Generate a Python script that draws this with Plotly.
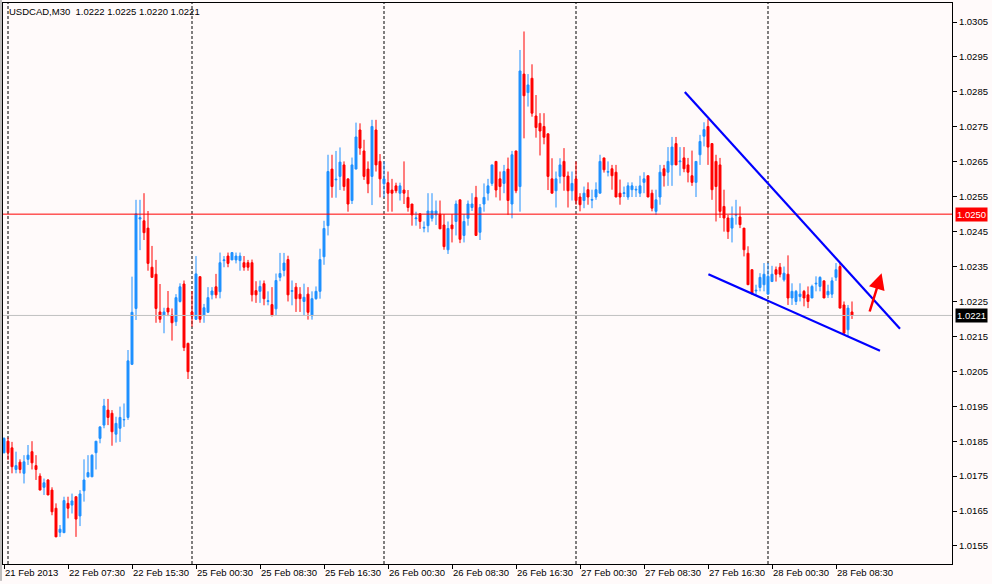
import plotly.graph_objects as go

# ---------------- data (USDCAD, M30) ----------------
open_prices = [
    1.01817, 1.01850, 1.01831, 1.01769, 1.01790, 1.01758, 1.01798, 1.01820, 1.01780, 1.01750,
    1.01718, 1.01739, 1.01710, 1.01658, 1.01589, 1.01588, 1.01672, 1.01667, 1.01691, 1.01636,
    1.01708, 1.01748, 1.01748, 1.01817, 1.01858, 1.01896, 1.01939, 1.01930, 1.01870, 1.01887,
    1.01911, 1.01918, 1.02070, 1.02230, 1.02486, 1.02481, 1.02460, 1.02348, 1.02328, 1.02220,
    1.02210, 1.02231, 1.02211, 1.02192, 1.02250, 1.02300, 1.02130, 1.02220, 1.02199, 1.02321,
    1.02211, 1.02219, 1.02269, 1.02292, 1.02278, 1.02367, 1.02380, 1.02369, 1.02369, 1.02367,
    1.02361, 1.02361, 1.02361, 1.02281, 1.02279, 1.02301, 1.02250, 1.02241, 1.02229, 1.02319,
    1.02339, 1.02370, 1.02279, 1.02291, 1.02271, 1.02250, 1.02271, 1.02209, 1.02258, 1.02279,
    1.02378, 1.02467, 1.02629, 1.02598, 1.02608, 1.02641, 1.02601, 1.02539, 1.02629, 1.02741,
    1.02681, 1.02629, 1.02608, 1.02741, 1.02651, 1.02587, 1.02590, 1.02569, 1.02581, 1.02560,
    1.02569, 1.02548, 1.02529, 1.02487, 1.02501, 1.02460, 1.02467, 1.02488, 1.02498, 1.02500,
    1.02469, 1.02398, 1.02469, 1.02479, 1.02541, 1.02439, 1.02488, 1.02519, 1.02548, 1.02448,
    1.02529, 1.02560, 1.02588, 1.02651, 1.02601, 1.02588, 1.02629, 1.02529, 1.02681, 1.02579,
    1.02901, 1.02848, 1.02889, 1.02781, 1.02760, 1.02751, 1.02730, 1.02601, 1.02567, 1.02608,
    1.02651, 1.02609, 1.02567, 1.02601, 1.02549, 1.02539, 1.02570, 1.02540, 1.02549, 1.02560,
    1.02661, 1.02620, 1.02630, 1.02620, 1.02560, 1.02559, 1.02549, 1.02570, 1.02569, 1.02560,
    1.02591, 1.02610, 1.02560, 1.02508, 1.02549, 1.02630, 1.02620, 1.02641, 1.02702, 1.02650,
    1.02661, 1.02641, 1.02610, 1.02591, 1.02670, 1.02723, 1.02751, 1.02702, 1.02651, 1.02641,
    1.02522, 1.02489, 1.02460, 1.02497, 1.02492, 1.02460, 1.02388, 1.02341, 1.02280, 1.02290,
    1.02298, 1.02271, 1.02307, 1.02341, 1.02348, 1.02312, 1.02328, 1.02260, 1.02250, 1.02264,
    1.02279, 1.02269, 1.02260, 1.02300, 1.02293, 1.02309, 1.02269, 1.02271, 1.02319, 1.02350,
    1.02240, 1.02169, 1.02220,
]
high_prices = [
    1.01861, 1.01860, 1.01848, 1.01820, 1.01798, 1.01810, 1.01839, 1.01850, 1.01810, 1.01758,
    1.01743, 1.01741, 1.01718, 1.01672, 1.01610, 1.01691, 1.01691, 1.01700, 1.01691, 1.01710,
    1.01798, 1.01810, 1.01812, 1.01850, 1.01891, 1.01971, 1.01971, 1.01939, 1.01920, 1.01949,
    1.01958, 1.02111, 1.02321, 1.02541, 1.02541, 1.02560, 1.02509, 1.02409, 1.02369, 1.02300,
    1.02232, 1.02280, 1.02230, 1.02271, 1.02302, 1.02310, 1.02132, 1.02280, 1.02380, 1.02321,
    1.02243, 1.02291, 1.02291, 1.02329, 1.02390, 1.02380, 1.02390, 1.02390, 1.02390, 1.02390,
    1.02380, 1.02369, 1.02370, 1.02308, 1.02310, 1.02310, 1.02279, 1.02291, 1.02330, 1.02389,
    1.02389, 1.02381, 1.02310, 1.02303, 1.02291, 1.02301, 1.02291, 1.02279, 1.02293, 1.02401,
    1.02481, 1.02670, 1.02670, 1.02681, 1.02691, 1.02651, 1.02601, 1.02662, 1.02762, 1.02760,
    1.02713, 1.02651, 1.02770, 1.02770, 1.02672, 1.02651, 1.02622, 1.02601, 1.02590, 1.02590,
    1.02651, 1.02569, 1.02529, 1.02507, 1.02501, 1.02479, 1.02560, 1.02560, 1.02539, 1.02539,
    1.02500, 1.02479, 1.02500, 1.02539, 1.02541, 1.02500, 1.02539, 1.02560, 1.02581, 1.02529,
    1.02588, 1.02601, 1.02641, 1.02651, 1.02622, 1.02641, 1.02662, 1.02681, 1.02681, 1.02970,
    1.03023, 1.02901, 1.02929, 1.02841, 1.02789, 1.02789, 1.02730, 1.02660, 1.02622, 1.02660,
    1.02689, 1.02622, 1.02622, 1.02651, 1.02560, 1.02579, 1.02591, 1.02570, 1.02591, 1.02670,
    1.02661, 1.02651, 1.02641, 1.02641, 1.02599, 1.02579, 1.02591, 1.02591, 1.02581, 1.02610,
    1.02620, 1.02610, 1.02570, 1.02570, 1.02641, 1.02641, 1.02692, 1.02721, 1.02721, 1.02692,
    1.02692, 1.02661, 1.02682, 1.02651, 1.02727, 1.02763, 1.02772, 1.02702, 1.02670, 1.02661,
    1.02570, 1.02498, 1.02522, 1.02541, 1.02522, 1.02460, 1.02408, 1.02341, 1.02298, 1.02331,
    1.02360, 1.02360, 1.02352, 1.02350, 1.02360, 1.02350, 1.02382, 1.02302, 1.02283, 1.02302,
    1.02283, 1.02293, 1.02298, 1.02322, 1.02322, 1.02309, 1.02298, 1.02319, 1.02360, 1.02360,
    1.02250, 1.02240, 1.02250,
]
low_prices = [
    1.01815, 1.01796, 1.01758, 1.01758, 1.01758, 1.01729, 1.01782, 1.01769, 1.01739, 1.01710,
    1.01696, 1.01696, 1.01638, 1.01576, 1.01576, 1.01588, 1.01629, 1.01643, 1.01576, 1.01607,
    1.01677, 1.01746, 1.01748, 1.01769, 1.01844, 1.01887, 1.01896, 1.01837, 1.01846, 1.01848,
    1.01891, 1.01911, 1.02068, 1.02197, 1.02397, 1.02426, 1.02338, 1.02319, 1.02189, 1.02189,
    1.02159, 1.02208, 1.02138, 1.02180, 1.02247, 1.02108, 1.02028, 1.02178, 1.02197, 1.02189,
    1.02189, 1.02218, 1.02256, 1.02259, 1.02259, 1.02348, 1.02348, 1.02369, 1.02359, 1.02338,
    1.02338, 1.02338, 1.02250, 1.02246, 1.02246, 1.02239, 1.02239, 1.02209, 1.02209, 1.02308,
    1.02322, 1.02250, 1.02239, 1.02220, 1.02220, 1.02209, 1.02198, 1.02198, 1.02255, 1.02258,
    1.02355, 1.02439, 1.02547, 1.02547, 1.02569, 1.02567, 1.02507, 1.02529, 1.02629, 1.02670,
    1.02598, 1.02560, 1.02526, 1.02622, 1.02548, 1.02548, 1.02507, 1.02507, 1.02560, 1.02539,
    1.02529, 1.02507, 1.02467, 1.02467, 1.02458, 1.02448, 1.02448, 1.02479, 1.02469, 1.02458,
    1.02398, 1.02386, 1.02419, 1.02439, 1.02417, 1.02419, 1.02467, 1.02509, 1.02439, 1.02426,
    1.02507, 1.02539, 1.02581, 1.02548, 1.02539, 1.02560, 1.02498, 1.02488, 1.02560, 1.02507,
    1.02717, 1.02808, 1.02779, 1.02719, 1.02668, 1.02700, 1.02569, 1.02560, 1.02519, 1.02588,
    1.02567, 1.02519, 1.02539, 1.02527, 1.02508, 1.02517, 1.02527, 1.02517, 1.02541, 1.02560,
    1.02619, 1.02608, 1.02570, 1.02549, 1.02527, 1.02549, 1.02541, 1.02549, 1.02549, 1.02549,
    1.02560, 1.02549, 1.02508, 1.02498, 1.02527, 1.02579, 1.02581, 1.02581, 1.02641, 1.02610,
    1.02620, 1.02591, 1.02581, 1.02549, 1.02641, 1.02694, 1.02641, 1.02541, 1.02479, 1.02489,
    1.02450, 1.02429, 1.02419, 1.02470, 1.02460, 1.02379, 1.02298, 1.02269, 1.02269, 1.02279,
    1.02279, 1.02271, 1.02307, 1.02307, 1.02319, 1.02307, 1.02240, 1.02240, 1.02240, 1.02250,
    1.02236, 1.02231, 1.02260, 1.02279, 1.02279, 1.02260, 1.02260, 1.02260, 1.02309, 1.02231,
    1.02159, 1.02150, 1.02200,
]
close_prices = [
    1.01858, 1.01817, 1.01777, 1.01780, 1.01769, 1.01791, 1.01810, 1.01788, 1.01769, 1.01710,
    1.01731, 1.01696, 1.01648, 1.01576, 1.01598, 1.01680, 1.01658, 1.01679, 1.01627, 1.01699,
    1.01739, 1.01760, 1.01810, 1.01850, 1.01891, 1.01951, 1.01918, 1.01877, 1.01901, 1.01918,
    1.01912, 1.02080, 1.02219, 1.02501, 1.02490, 1.02447, 1.02359, 1.02319, 1.02230, 1.02199,
    1.02220, 1.02220, 1.02189, 1.02261, 1.02292, 1.02118, 1.02049, 1.02208, 1.02329, 1.02199,
    1.02232, 1.02261, 1.02280, 1.02269, 1.02361, 1.02369, 1.02359, 1.02390, 1.02380, 1.02380,
    1.02348, 1.02348, 1.02269, 1.02269, 1.02293, 1.02258, 1.02252, 1.02209, 1.02310, 1.02330,
    1.02360, 1.02269, 1.02281, 1.02258, 1.02258, 1.02262, 1.02219, 1.02258, 1.02279, 1.02370,
    1.02459, 1.02622, 1.02579, 1.02600, 1.02649, 1.02579, 1.02529, 1.02641, 1.02721, 1.02689,
    1.02608, 1.02587, 1.02751, 1.02641, 1.02601, 1.02601, 1.02560, 1.02560, 1.02567, 1.02581,
    1.02560, 1.02519, 1.02498, 1.02489, 1.02479, 1.02462, 1.02509, 1.02509, 1.02509, 1.02458,
    1.02407, 1.02459, 1.02458, 1.02529, 1.02428, 1.02479, 1.02529, 1.02529, 1.02439, 1.02519,
    1.02548, 1.02581, 1.02641, 1.02569, 1.02579, 1.02622, 1.02539, 1.02670, 1.02567, 1.02910,
    1.02839, 1.02870, 1.02789, 1.02748, 1.02738, 1.02720, 1.02608, 1.02560, 1.02601, 1.02641,
    1.02608, 1.02567, 1.02588, 1.02539, 1.02527, 1.02560, 1.02549, 1.02542, 1.02570, 1.02651,
    1.02627, 1.02622, 1.02610, 1.02549, 1.02549, 1.02561, 1.02581, 1.02581, 1.02571, 1.02581,
    1.02601, 1.02549, 1.02517, 1.02541, 1.02620, 1.02610, 1.02651, 1.02692, 1.02641, 1.02652,
    1.02630, 1.02620, 1.02591, 1.02651, 1.02708, 1.02742, 1.02692, 1.02570, 1.02579, 1.02508,
    1.02489, 1.02450, 1.02489, 1.02499, 1.02470, 1.02398, 1.02298, 1.02274, 1.02282, 1.02319,
    1.02328, 1.02322, 1.02328, 1.02328, 1.02328, 1.02331, 1.02260, 1.02279, 1.02279, 1.02271,
    1.02260, 1.02250, 1.02293, 1.02302, 1.02319, 1.02260, 1.02279, 1.02309, 1.02341, 1.02231,
    1.02159, 1.02231, 1.02210,
]

tick_bars = [0, 16, 32, 48, 64, 80, 96, 112, 128, 144, 160, 176, 192, 208]
tick_labels = ["21 Feb 2013", "22 Feb 07:30", "22 Feb 15:30", "25 Feb 00:30",
               "25 Feb 08:30", "25 Feb 16:30", "26 Feb 00:30", "26 Feb 08:30",
               "26 Feb 16:30", "27 Feb 00:30", "27 Feb 08:30", "27 Feb 16:30",
               "28 Feb 00:30", "28 Feb 08:30"]
day_start_bars = [1, 47, 95, 143, 191]

alert_level = 1.0250
bid_level = 1.0221
title_text = "USDCAD,M30&nbsp;&nbsp;1.0222 1.0225 1.0220 1.0221"

# hand-drawn objects (bar index, price)
upper_trend = [(170.2, 1.02850), (224.0, 1.02172)]
lower_trend = [(176.1, 1.02328), (219.0, 1.02109)]
arrow_tail = (216.3, 1.02217)
arrow_head = (219.4, 1.02331)

# ---------------- figure ----------------
bars = list(range(len(close_prices)))
FONT = "Liberation Sans, Arial, sans-serif"
BG = "#FFFAFA"

fig = go.Figure(go.Candlestick(
    x=bars, open=open_prices, high=high_prices, low=low_prices, close=close_prices,
    increasing=dict(line=dict(color="#1E90FF", width=1), fillcolor="#1E90FF"),
    decreasing=dict(line=dict(color="#FF0000", width=1), fillcolor="#FF0000"),
    whiskerwidth=0, hoverinfo="skip", showlegend=False,
))

shapes = []
for b in day_start_bars:
    shapes.append(dict(type="line", xref="x", yref="paper", x0=b, x1=b, y0=0, y1=1,
                       line=dict(color="black", width=1, dash="3px,2px"), layer="below"))
shapes.append(dict(type="line", xref="paper", yref="y", x0=0, x1=1, y0=alert_level, y1=alert_level,
                   line=dict(color="#FF0000", width=1)))
shapes.append(dict(type="line", xref="paper", yref="y", x0=0, x1=1, y0=bid_level, y1=bid_level,
                   line=dict(color="#C0C0C0", width=1)))
for seg in (upper_trend, lower_trend):
    shapes.append(dict(type="line", xref="x", yref="y", x0=seg[0][0], y0=seg[0][1],
                       x1=seg[1][0], y1=seg[1][1], line=dict(color="#0000FF", width=2.2)))
# window frame details
shapes.append(dict(type="line", xref="paper", yref="paper", x0=-0.0021, x1=-0.0021, y0=-0.03, y1=1.006,
                   line=dict(color="#808080", width=1)))
shapes.append(dict(type="rect", xref="paper", yref="paper", x0=-0.01, x1=1.05, y0=-0.0357, y1=-0.05,
                   line=dict(width=0), fillcolor="#ECE9D8"))

annotations = [
    dict(text=title_text, xref="paper", yref="paper", x=0.004, y=0.985, xanchor="left",
         yanchor="middle", showarrow=False, font=dict(family=FONT, size=9.5, color="black")),
    dict(text=f"{alert_level:.4f}", xref="paper", yref="y", x=1.003, y=alert_level, xanchor="left",
         yanchor="middle", showarrow=False, bgcolor="#FF0000", borderpad=1,
         font=dict(family=FONT, size=9.5, color="white")),
    dict(text=f"{bid_level:.4f}", xref="paper", yref="y", x=1.003, y=bid_level, xanchor="left",
         yanchor="middle", showarrow=False, bgcolor="#000000", borderpad=1,
         font=dict(family=FONT, size=9.5, color="white")),
    dict(text="", x=arrow_head[0], y=arrow_head[1], ax=arrow_tail[0], ay=arrow_tail[1],
         xref="x", yref="y", axref="x", ayref="y", showarrow=True, arrowhead=2,
         arrowsize=1.3, arrowwidth=2.5, arrowcolor="#FF0000"),
]

fig.update_layout(
    width=992, height=584,
    margin=dict(l=3, r=40, t=3, b=20, autoexpand=False),
    paper_bgcolor=BG, plot_bgcolor=BG,
    font=dict(family=FONT, size=9.5, color="black"),
    shapes=shapes, annotations=annotations,
    showlegend=False,
    xaxis=dict(range=[-0.25, 237], tickmode="array", tickvals=tick_bars, ticktext=tick_labels,
               ticks="outside", ticklen=4, tickcolor="black", showline=True, linecolor="black",
               linewidth=1, mirror=True, showgrid=False, zeroline=False, tickangle=0,
               automargin=False, ticklabelposition="outside right",
               rangeslider=dict(visible=False),
               tickfont=dict(family=FONT, size=9.5, color="black")),
    yaxis=dict(range=[1.014984, 1.031045], side="right", tick0=1.0005, dtick=0.001,
               tickformat=".4f", ticks="outside", ticklen=4, tickcolor="black",
               showline=True, linecolor="black", linewidth=1, mirror=True,
               showgrid=False, zeroline=False, automargin=False,
               tickfont=dict(family=FONT, size=9.5, color="black")),
)

page_fix = ("document.documentElement.style.margin='0';document.body.style.margin='0';"
            "document.body.style.padding='0';document.body.style.overflow='hidden';"
            "document.body.style.background='" + BG + "';")
fig.write_html("out.html", post_script=page_fix,
               config={"displayModeBar": False, "staticPlot": True})
